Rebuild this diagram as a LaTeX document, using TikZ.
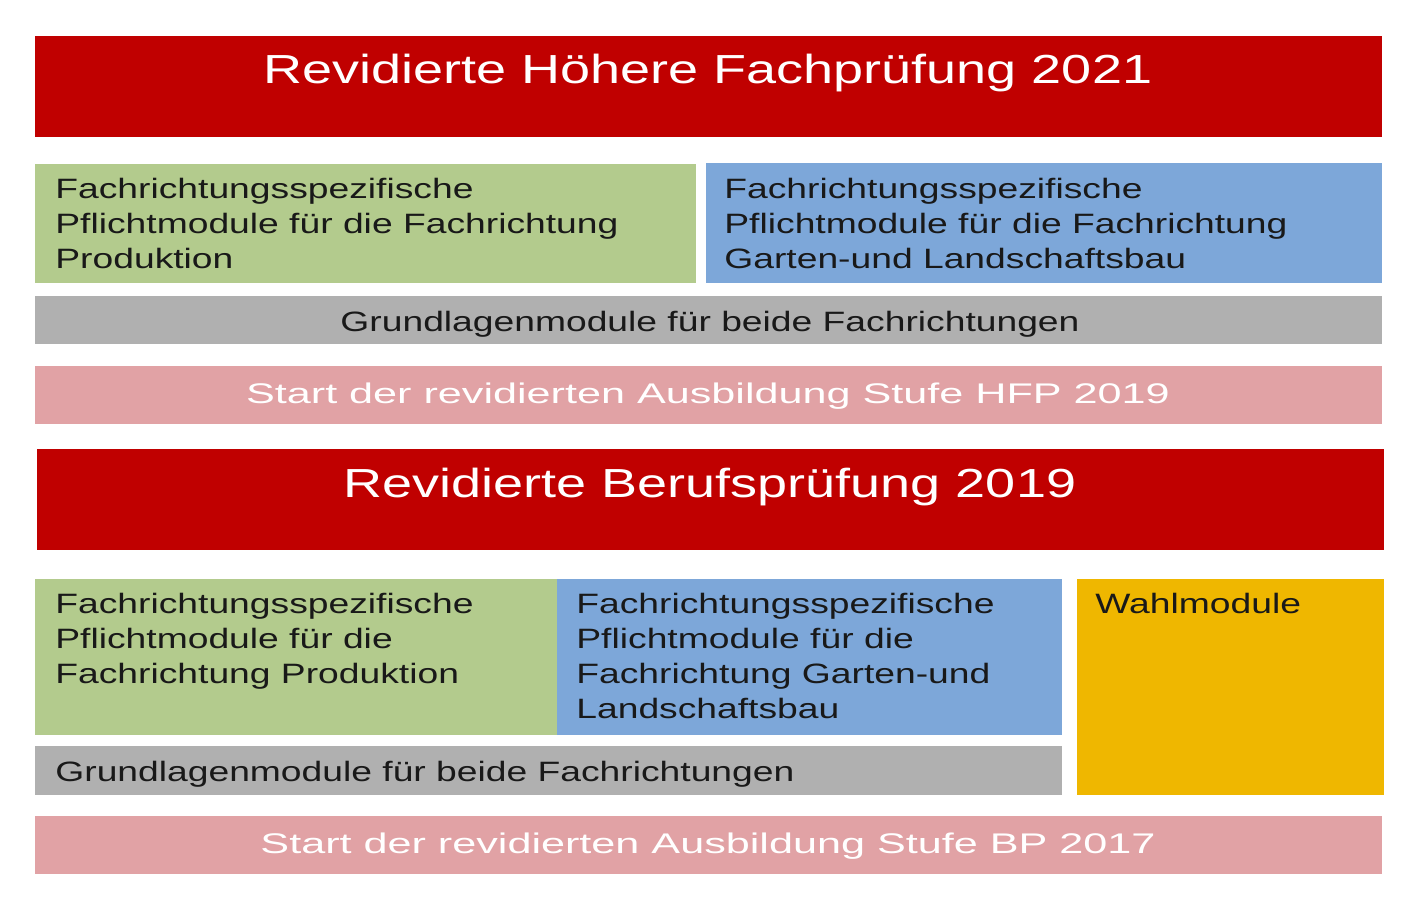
\documentclass[tikz,border=0pt]{standalone}
\usepackage{fontspec}
\setmainfont{Liberation Sans}[FakeStretch=1.33]
\newfontfamily\startfont{Liberation Sans}[FakeStretch=1.52]
\definecolor{pruefrot}{HTML}{C00000}
\definecolor{gruen}{HTML}{B3CB8D}
\definecolor{blau}{HTML}{7DA7D9}
\definecolor{grau}{HTML}{B0B0B0}
\definecolor{rosa}{HTML}{E1A2A5}
\definecolor{gelb}{HTML}{EFB700}
\tikzset{
	titel/.style={white, font=\fontsize{20.3}{24}\selectfont, anchor=base, inner sep=0},
	modul/.style={black!90, font=\fontsize{14}{17.5}\selectfont, align=left, anchor=north west, inner sep=0},
	zeile/.style={black!90, font=\fontsize{14}{17.5}\selectfont, anchor=base west, inner sep=0},
	start/.style={white, font=\startfont\fontsize{14.2}{17}\selectfont, anchor=base, inner sep=0}
}
\begin{document}
\begin{tikzpicture}[x=0.5pt, y=-0.5pt]
			\useasboundingbox (0,0) rectangle (1420,900);
			% Höhere Fachprüfung
			\fill[pruefrot] (35,36) rectangle (1382,137);
			\fill[gruen] (35,164) rectangle (696,283);
			\fill[blau] (706,163) rectangle (1382,283);
			\fill[grau] (35,296) rectangle (1382,344);
			\fill[rosa] (35,366) rectangle (1382,424);
			\node[titel] (titelHFP) at (708,83) {Revidierte Höhere Fachprüfung 2021};
			\node[modul] (produktionHFP) at (55,177.5) {Fachrichtungsspezifische\\Pflichtmodule für die Fachrichtung\\Produktion};
			\node[modul] (galabauHFP) at (724,177.5) {Fachrichtungsspezifische\\Pflichtmodule für die Fachrichtung\\Garten-und Landschaftsbau};
			\node[zeile, anchor=base] (grundHFP) at (710,331) {Grundlagenmodule für beide Fachrichtungen};
			\node[start] (startHFP) at (708,403) {Start der revidierten Ausbildung Stufe HFP 2019};
			% Berufsprüfung
			\fill[pruefrot] (37,449) rectangle (1384,550);
			\fill[gruen] (35,579) rectangle (557,735);
			\fill[blau] (557,579) rectangle (1062,735);
			\fill[gelb] (1077,579) rectangle (1384,795);
			\fill[grau] (35,746) rectangle (1062,795);
			\fill[rosa] (35,816) rectangle (1382,874);
			\node[titel] (titelBP) at (710,497) {Revidierte Berufsprüfung 2019};
			\node[modul] (produktionBP) at (55,592.5) {Fachrichtungsspezifische\\Pflichtmodule für die\\Fachrichtung Produktion};
			\node[modul] (galabauBP) at (576,592.5) {Fachrichtungsspezifische\\Pflichtmodule für die\\Fachrichtung Garten-und\\Landschaftsbau};
			\node[modul] (wahlBP) at (1095,592.5) {Wahlmodule};
			\node[zeile] (grundBP) at (55,781) {Grundlagenmodule für beide Fachrichtungen};
			\node[start] (startBP) at (708,853) {Start der revidierten Ausbildung Stufe BP 2017};
	\end{tikzpicture}
\end{document}
